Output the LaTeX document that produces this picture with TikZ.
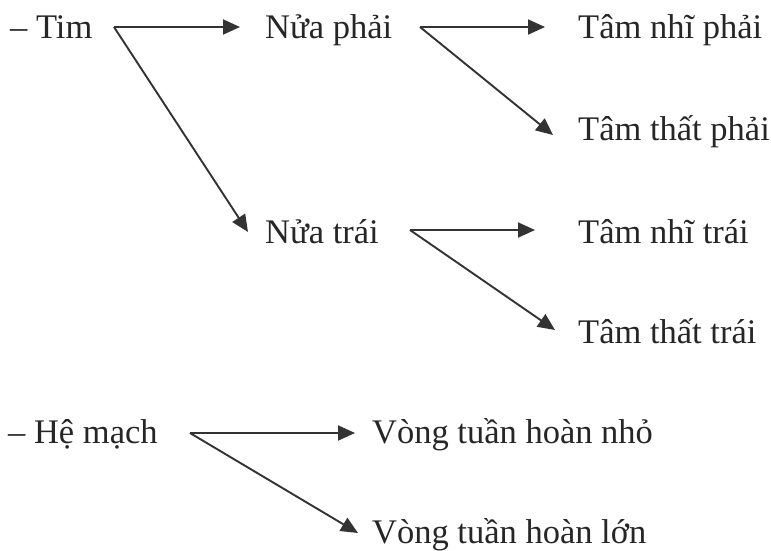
\documentclass[tikz,border=0pt]{standalone}
\usepackage{fontspec}
\setmainfont{Liberation Serif}
\usetikzlibrary{arrows.meta, positioning, calc}

\begin{document}
\begin{tikzpicture}[
    x=1pt, y=-1pt,
    part/.style={inner sep=0pt, anchor=base west, font=\fontsize{34.5}{40}\selectfont, text=black!85},
    link/.style={-{Triangle[length=17pt, width=15pt]}, line width=1.9pt, draw=black!80},
]
    \useasboundingbox (0,0) rectangle (771,550);

    % left column
    \node[part] (tim) at (10,38) {– Tim};
    \node[part] (hemach) at (8,443) {– Hệ mạch};

    % middle column
    \node[part] (nphai) at (265,38) {Nửa phải};
    \node[part] (ntrai) at (265,243) {Nửa trái};
    \node[part] (vnho) at (372,443) {Vòng tuần hoàn nhỏ};
    \node[part] (vlon) at (372,543) {Vòng tuần hoàn lớn};

    % right column
    \node[part] (tnphai) at (578,38) {Tâm nhĩ phải};
    \node[part] (ttphai) at (578,140) {Tâm thất phải};
    \node[part] (tntrai) at (578,243) {Tâm nhĩ trái};
    \node[part] (tttrai) at (578,343) {Tâm thất trái};

    % fork points
    \coordinate (ftim) at (114,27);
    \coordinate (fphai) at (420,27);
    \coordinate (ftrai) at (410,230);
    \coordinate (fmach) at (190,433);

    \draw[link] (ftim) -- ([xshift=-25pt, yshift=11pt]nphai.base west);
    \draw[link] (ftim) -- ([xshift=-17pt, yshift=11pt]ntrai.base west);
    \draw[link] (fphai) -- ([xshift=-33pt, yshift=11pt]tnphai.base west);
    \draw[link] (fphai) -- ([xshift=-25pt, yshift=5pt]ttphai.base west);
    \draw[link] (ftrai) -- ([xshift=-43pt, yshift=13pt]tntrai.base west);
    \draw[link] (ftrai) -- ([xshift=-23pt, yshift=13pt]tttrai.base west);
    \draw[link] (fmach) -- ([xshift=-17pt, yshift=10pt]vnho.base west);
    \draw[link] (fmach) -- ([xshift=-14pt, yshift=10pt]vlon.base west);
\end{tikzpicture}
\end{document}
